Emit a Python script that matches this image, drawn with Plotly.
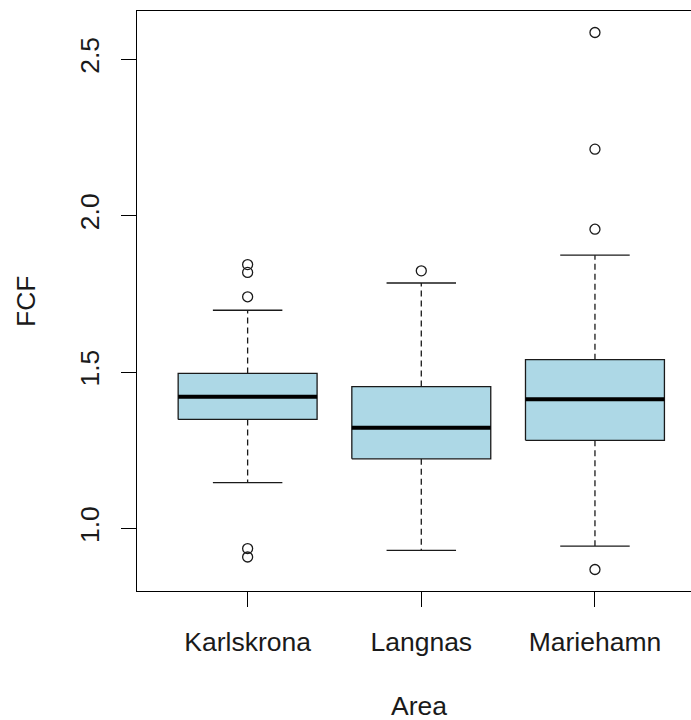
import plotly.graph_objects as go

# ---- data ----
areas = ["Karlskrona", "Langnas", "Mariehamn"]
q1 = [1.349, 1.223, 1.282]
median = [1.421, 1.322, 1.413]
q3 = [1.496, 1.454, 1.540]
lower_whisker = [1.147, 0.930, 0.944]
upper_whisker = [1.698, 1.785, 1.874]
outliers = [
    [1.741, 1.819, 1.844, 0.936, 0.909],
    [1.824],
    [2.586, 2.213, 1.957, 0.869],
]
y_ticks = [1.0, 1.5, 2.0, 2.5]
y_tick_labels = ["1.0", "1.5", "2.0", "2.5"]

# ---- style ----
FONT = "Liberation Sans, Arial, sans-serif"
FS = 26.5
BOX_HALF = 0.4
CAP_HALF = 0.2
FILL = "#ADD8E6"
LINE = "#1a1a1a"

positions = [1, 2, 3]
fig = go.Figure()

for i, p in enumerate(positions):
    # dashed whiskers
    for a, b in ((q3[i], upper_whisker[i]), (q1[i], lower_whisker[i])):
        fig.add_trace(go.Scatter(x=[p, p], y=[a, b], mode="lines",
                                 line=dict(color=LINE, width=1.3, dash="6px,4px"),
                                 hoverinfo="skip", showlegend=False))
    # caps
    for w in (upper_whisker[i], lower_whisker[i]):
        fig.add_trace(go.Scatter(x=[p - CAP_HALF, p + CAP_HALF], y=[w, w], mode="lines",
                                 line=dict(color=LINE, width=1.3),
                                 hoverinfo="skip", showlegend=False))
    # box
    fig.add_trace(go.Scatter(
        x=[p - BOX_HALF, p + BOX_HALF, p + BOX_HALF, p - BOX_HALF, p - BOX_HALF],
        y=[q1[i], q1[i], q3[i], q3[i], q1[i]],
        mode="lines", fill="toself", fillcolor=FILL,
        line=dict(color=LINE, width=1.3), hoverinfo="skip", showlegend=False))
    # median
    fig.add_trace(go.Scatter(x=[p - BOX_HALF, p + BOX_HALF], y=[median[i], median[i]],
                             mode="lines", line=dict(color="black", width=4),
                             hoverinfo="skip", showlegend=False))
    # outliers
    fig.add_trace(go.Scatter(x=[p] * len(outliers[i]), y=outliers[i], mode="markers",
                             marker=dict(symbol="circle-open", size=10,
                                         color=LINE, line=dict(width=1.3)),
                             hoverinfo="skip", showlegend=False))

all_vals = lower_whisker + upper_whisker + [v for o in outliers for v in o]
lo, hi = min(all_vals), max(all_vals)
pad = 0.04 * (hi - lo)

fig.update_layout(
    width=691, height=720,
    margin=dict(l=137, r=0, t=11, b=129, autoexpand=False),
    paper_bgcolor="white", plot_bgcolor="white",
    font=dict(family=FONT, size=FS, color="#1a1a1a"),
    showlegend=False,
    xaxis=dict(range=[0.363, 3.553], tickmode="array", tickvals=positions, ticktext=areas,
               showline=True, linecolor="black", linewidth=1.3, mirror=True,
               ticks="outside", ticklen=15, tickwidth=1.3, tickcolor="black",
               showgrid=False, zeroline=False, ticklabelstandoff=12, automargin=False),
    yaxis=dict(range=[lo - pad, hi + pad], tickmode="array", tickvals=y_ticks,
               ticktext=y_tick_labels, tickangle=-90,
               showline=True, linecolor="black", linewidth=1.3, mirror=False,
               ticks="outside", ticklen=15, tickwidth=1.3, tickcolor="black",
               showgrid=False, zeroline=False, ticklabelstandoff=11, automargin=False),
    annotations=[
        dict(text="FCF", xref="paper", yref="paper", x=-0.2004, y=0.5,
             xanchor="center", yanchor="middle", textangle=-90, showarrow=False,
             font=dict(family=FONT, size=FS)),
        dict(text="Area", xref="paper", yref="paper", x=0.509, y=-0.198,
             xanchor="center", yanchor="middle", showarrow=False,
             font=dict(family=FONT, size=FS)),
    ],
)

fig.write_html("out.html")
